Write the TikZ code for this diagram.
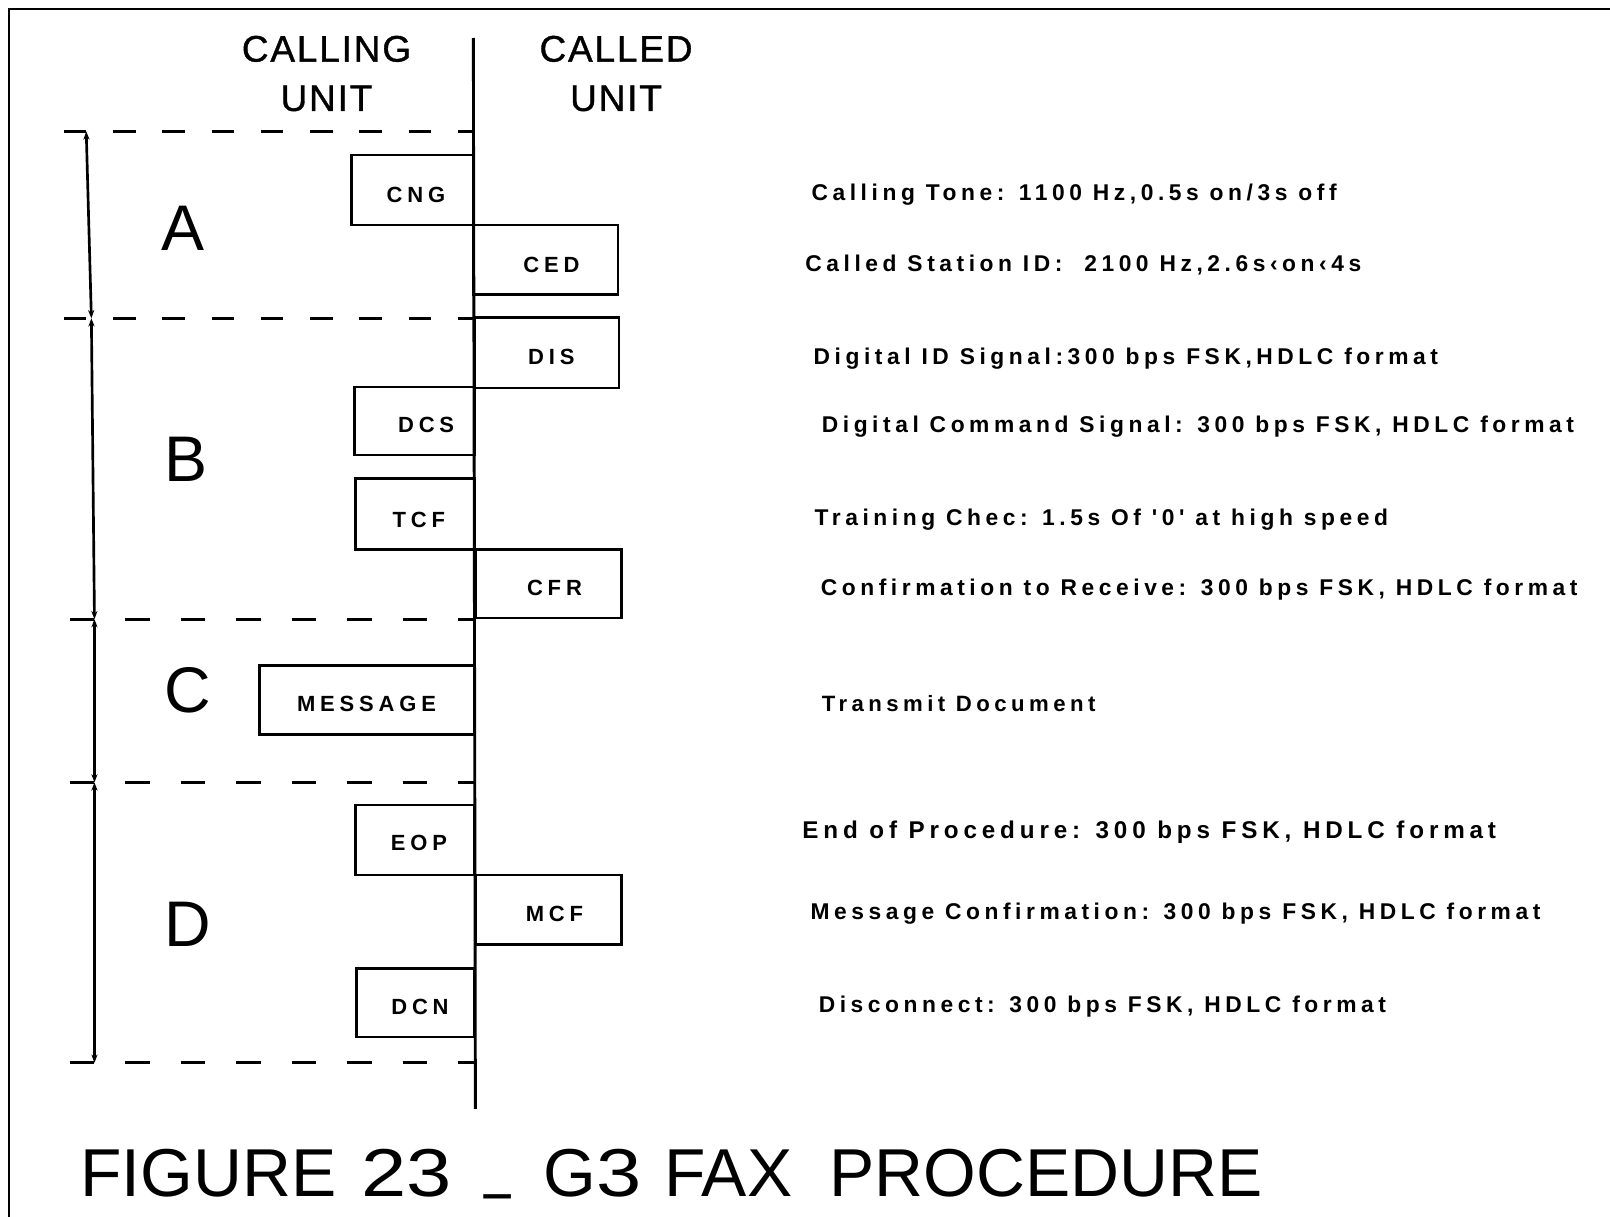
\documentclass[tikz,border=0pt]{standalone}
\usepackage{fontspec}
\setmainfont{Liberation Sans}
\newfontfamily\descfont[LetterSpace=20]{Liberation Sans}
\newfontfamily\boxfont[LetterSpace=22]{Liberation Sans}
\newfontfamily\headfont[LetterSpace=5,FakeBold=1]{Liberation Sans}
\usetikzlibrary{arrows.meta}
\newcommand{\tgap}[1]{\hspace{#1pt}}
\newcommand{\wdig}[1]{\scalebox{1.2}[1]{#1}}
\begin{document}
\begin{tikzpicture}[x=0.5pt,y=-0.5pt,
  frame/.style={line width=1pt},
  lifeline/.style={line width=1.4pt},
  sepa/.style={line width=1.4pt, dash pattern=on 11pt off 13pt},
  sepb/.style={line width=1.4pt, dash pattern=on 12pt off 15pt},
  dim/.style={line width=1.3pt, {Stealth[length=4pt,width=3pt]}-{Stealth[length=4pt,width=3pt]}},
  sig/.style={draw, line width=1.3pt, minimum height=34pt, inner sep=0pt},
  siglbl/.style={font=\boxfont\bfseries\fontsize{10.7}{12}\selectfont, anchor=center, inner sep=0pt},
  desc/.style={font=\descfont\bfseries\fontsize{11.1}{13}\selectfont, anchor=base west, inner sep=0pt},
  phase/.style={font=\fontsize{31.4}{36}\selectfont, inner sep=0pt, anchor=center},
  head/.style={font=\headfont\fontsize{18}{22}\selectfont, anchor=base, inner sep=0pt},
  ttl/.style={font=\fontsize{33}{40}\selectfont, anchor=base west, inner sep=0pt},
]
\useasboundingbox (0,0) rectangle (1568,1185);
\fill[white] (0,0) rectangle (1568,1185);

% frame
\draw[frame] (9,1185) -- (9,9) -- (1568,9);

% headers
\node[head] (h1) at (318,60) {CALLING};
\node[head] (h2) at (318,108) {UNIT};
\node[head] (h3) at (600,60) {CALLED};
\node[head] (h4) at (600,108) {UNIT};

% main line
\coordinate (ltop) at (461,37);
\coordinate (lbot) at (463,1080);
\draw[lifeline] (ltop) -- (lbot);

% separators
\draw[sepa] (62,128) -- (460,128);
\draw[sepa] (62,310) -- (461,310);
\draw[sepb] (68,603) -- (462,603);
\draw[sepb] (68,762) -- (462,762);
\draw[sepb] (68,1035) -- (462,1035);

% dimension lines
\coordinate (d1) at (84,128);
\coordinate (d2) at (89,310);
\coordinate (d3) at (92,603);
\coordinate (d4) at (92,762);
\coordinate (d5) at (92,1035);
\draw[dim] (d1) -- (d2);
\draw[dim] (d2) -- (d3);
\draw[dim] (d3) -- (d4);
\draw[dim] (d4) -- (d5);

% phase letters
\node[phase] (pa) at (178,222) {A};
\node[phase] (pb) at (181,447) {B};
\node[phase] (pc) at (183,672) {C};
\node[phase] (pd) at (183,900) {D};

% signal boxes
\node[sig, minimum width=59.5pt] (cng) at (401.5,185) {};
\node[sig, minimum width=70.5pt] (ced) at (531.5,253) {};
\node[sig, minimum width=70.5pt, minimum height=34.5pt] (dis) at (532.5,343.5) {};
\node[sig, minimum width=58.5pt, minimum height=33pt] (dcs) at (403.5,410) {};
\node[sig, minimum width=58pt, minimum height=34.5pt] (tcf) at (404,500.5) {};
\node[sig, minimum width=71pt, minimum height=33.5pt] (cfr) at (534,568.5) {};
\node[sig, minimum width=104.5pt, minimum height=33.5pt] (msg) at (357.5,681.5) {};
\node[sig, minimum width=58pt] (eop) at (404,818) {};
\node[sig, minimum width=71pt] (mcf) at (534,886) {};
\node[sig, minimum width=57.5pt, minimum height=33.5pt] (dcn) at (404.5,976.5) {};

\node[siglbl] (tcng) at (405,190) {CNG};
\node[siglbl] (tced) at (537,258) {CED};
\node[siglbl] (tdis) at (537,348) {DIS};
\node[siglbl] (tdcs) at (415,414) {DCS};
\node[siglbl] (ttcf) at (408,506) {TCF};
\node[siglbl] (tcfr) at (540,573) {CFR};
\node[siglbl] (tmsg) at (357,686) {MESSAGE};
\node[siglbl] (teop) at (408,821) {EOP};
\node[siglbl] (tmcf) at (540,890) {MCF};
\node[siglbl] (tdcn) at (409,981) {DCN};

% descriptions
\node[desc] (e1) at (790,195.5) {Calling Tone: 1100 Hz,0.5s on/3s off};
\node[desc] (e2) at (784,264.5) {Called Station ID:\ \ 2100 Hz,2.6s‹on‹4s};
\node[desc] (e3) at (792,354.5) {Digital ID Signal:300 bps FSK,HDLC format};
\node[desc] (e4) at (800,421.5) {Digital Command Signal: 300 bps FSK, HDLC format};
\node[desc] (e5) at (793,511.5) {Training Chec: 1.5s Of '0' at high speed};
\node[desc] (e6) at (799,579.5) {Confirmation to Receive: 300 bps FSK, HDLC format};
\node[desc, font=\descfont\bfseries\fontsize{10.8}{13}\selectfont] (e7) at (800,692.5) {Transmit Document};
\node[desc, font=\descfont\bfseries\fontsize{11.8}{13}\selectfont] (e8) at (781,817) {End of Procedure: 300 bps FSK, HDLC format};
\node[desc] (e9) at (789,895.5) {Message Confirmation: 300 bps FSK, HDLC format};
\node[desc] (e10) at (797,986.5) {Disconnect: 300 bps FSK, HDLC format};

% title
\node[ttl] (title) at (78,1165) {FIGURE\tgap{12}\wdig{23}\tgap{16}\raisebox{0.16em}{\scalebox{0.7}[1]{\_}}\tgap{16}G\wdig{3}\tgap{11}FAX\tgap{18}PROCEDURE};
\end{tikzpicture}
\end{document}
